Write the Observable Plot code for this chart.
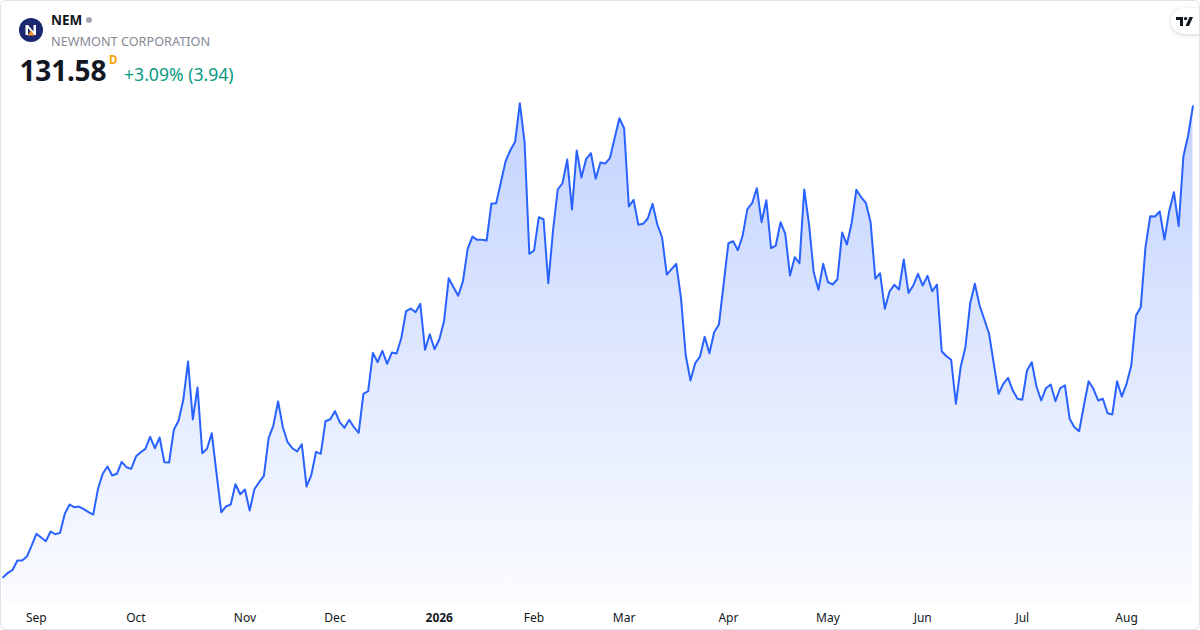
<!DOCTYPE html>
<html>
<head>
<meta charset="utf-8">
<script src="https://cdn.jsdelivr.net/npm/d3@7"></script>
<script src="https://cdn.jsdelivr.net/npm/@observablehq/plot@0.6"></script>
<style>
  html, body { margin: 0; padding: 0; background: #fff; }
  #wrap { position: relative; width: 1200px; height: 630px; overflow: hidden; font-family: "Noto Sans", "Open Sans", sans-serif; background: #fff; }
  #chart { position: absolute; left: 0; top: 0; }
  #border { position: absolute; left: 0; top: 0; width: 1200px; height: 630px; box-sizing: border-box; border: 1px solid #e0e3eb; border-radius: 6px; pointer-events: none; }
  .abs { position: absolute; white-space: nowrap; }
  #sym { left: 51px; top: 11px; font-size: 13.5px; font-weight: 700; color: #131722; line-height: 18px; }
  #dot { left: 86px; top: 17px; width: 6px; height: 6px; border-radius: 50%; background: #a3a6af; }
  #name { left: 51px; top: 32px; font-size: 12.7px; color: #868993; line-height: 18px; }
  #price { left: 19.5px; top: 51px; font-size: 28px; font-weight: 700; color: #131722; line-height: 38px; letter-spacing: -0.2px; }
  #dmark { left: 109px; top: 53px; font-size: 11.5px; font-weight: 700; color: #f7a600; line-height: 14px; }
  #chg { left: 124px; top: 61.5px; font-size: 17.6px; color: #089981; line-height: 24px; }
  #tv { left: 1171px; top: 8px; width: 40px; height: 26px; border-radius: 13px; background: #fff; box-shadow: 0 1px 4px rgba(0,0,0,0.18); }
</style>
</head>
<body>
<div id="wrap">
  <div id="chart"></div>
  <svg class="abs" style="left:19px;top:18px" width="24" height="24" viewBox="0 0 24 24">
    <circle cx="12" cy="12" r="12" fill="#1b2870"/>
    <path d="M6.5 17 V7 H9 L14.5 13.5 V7 H17 V17 H15 L9 10 V17 Z" fill="#fff"/>
    <path d="M8.5 17.5 L12 12.5 L15.5 17.5 Z" fill="#f39a2b"/>
  </svg>
  <div id="sym" class="abs">NEM</div>
  <div id="dot" class="abs"></div>
  <div id="name" class="abs">NEWMONT CORPORATION</div>
  <div id="price" class="abs">131.58</div>
  <div id="dmark" class="abs">D</div>
  <div id="chg" class="abs">+3.09% (3.94)</div>
  <div id="tv" class="abs">
    <svg width="26" height="26" viewBox="0 0 26 26" style="position:absolute;left:0;top:0">
      <path d="M5 9 H12 V18 H9 V12 H5 Z" fill="#131722"/>
      <circle cx="14.6" cy="10.6" r="1.7" fill="#131722"/>
      <path d="M18.5 9 H22 L18 18 H14.5 Z" fill="#131722"/>
    </svg>
  </div>
  <div id="border"></div>
</div>
<script>
// Daily closes (trading-day index 0 = 2025-08-21 ... 251 = 2026-08-21)
const values = [
  68.23, 68.82, 69.23, 70.48, 70.48, 71.01, 72.49, 74.07, 73.57, 73.07,
  74.38, 74.01, 74.20, 76.76, 78.01, 77.65, 77.74, 77.38, 77.00, 76.66,
  80.12, 82.14, 83.12, 81.91, 82.14, 83.75, 83.03, 82.81, 84.46, 85.04,
  85.50, 87.11, 85.58, 87.02, 83.70, 83.66, 88.06, 89.27, 92.09, 97.24,
  89.44, 93.75, 84.91, 85.50, 87.60, 82.22, 76.97, 77.74, 78.01, 80.74,
  79.39, 80.03, 77.20, 80.07, 81.01, 81.87, 86.93, 88.63, 91.86, 88.41,
  86.39, 85.58, 85.14, 86.12, 80.43, 81.95, 85.10, 84.83, 89.21, 89.48,
  90.56, 89.08, 88.32, 89.40, 88.41, 87.65, 92.90, 93.25, 98.41, 97.15,
  98.68, 96.93, 98.45, 98.32, 100.40, 104.01, 104.37, 103.87, 105.00, 98.82,
  100.91, 98.90, 100.20, 102.62, 108.45, 107.24, 106.08, 108.04, 112.40, 114.05,
  113.61, 113.61, 113.52, 118.49, 118.49, 121.36, 124.18, 125.66, 126.79, 131.98,
  126.74, 111.73, 112.17, 116.65, 116.38, 107.77, 114.86, 120.38, 121.22, 124.41,
  117.69, 125.62, 121.99, 124.51, 125.26, 121.82, 124.01, 123.87, 124.59, 127.28,
  129.97, 128.62, 118.09, 118.99, 115.63, 115.76, 116.48, 118.45, 115.67, 113.96,
  108.94, 109.66, 110.38, 105.76, 98.05, 94.69, 97.01, 97.91, 100.56, 98.36,
  101.18, 102.22, 107.69, 113.15, 113.42, 112.21, 114.15, 117.73, 118.53, 120.55,
  115.98, 118.94, 112.48, 112.84, 115.98, 114.42, 108.81, 111.27, 110.46, 120.38,
  115.76, 109.25, 106.89, 110.38, 107.91, 107.60, 108.31, 114.59, 112.98, 115.84,
  120.34, 119.34, 118.59, 115.98, 108.37, 109.12, 104.33, 106.66, 107.56, 106.93,
  110.96, 106.48, 107.46, 109.04, 107.46, 108.77, 106.70, 107.60, 98.63, 97.95,
  97.47, 91.55, 96.48, 99.17, 105.00, 107.69, 104.77, 102.89, 100.97, 96.93,
  92.90, 94.24, 95.05, 93.34, 92.23, 92.09, 96.03, 97.15, 93.88, 92.00,
  93.65, 94.15, 91.90, 93.65, 94.05, 89.54, 88.41, 87.87, 91.32, 94.59,
  93.57, 92.00, 92.23, 90.29, 90.11, 94.59, 92.53, 94.24, 96.70, 103.43,
  104.55, 112.62, 116.78, 116.74, 117.42, 113.65, 117.46, 120.01, 115.44, 124.85,
  127.64, 131.58
];
// First trading day of each month (index) and its label
const tickIndex  = [7, 28, 51, 70, 92, 112, 131, 153, 174, 194, 215, 237];
const tickLabels = ["Sep", "Oct", "Nov", "Dec", "2026", "Feb", "Mar", "Apr", "May", "Jun", "Jul", "Aug"];

const yDomain = [64.83, 145.8];
const data = values.map((v, i) => ({i, v}));
const ticks = tickIndex.map((i, k) => ({i, label: tickLabels[k]}));
const isYear = d => /^\d+$/.test(d.label);

const chart = Plot.plot({
  width: 1200,
  height: 630,
  marginLeft: 2.7,
  marginRight: 7.6,
  marginTop: 0,
  marginBottom: 28,
  style: {background: "transparent", fontFamily: "'Noto Sans', 'Open Sans', sans-serif"},
  x: {domain: [0, values.length - 1], axis: null},
  y: {domain: yDomain, axis: null},
  marks: [
    Plot.areaY(data, {x: "i", y1: yDomain[0], y2: "v", fill: "url(#nemGrad)"}),
    Plot.lineY(data, {x: "i", y: "v", stroke: "#2962FF", strokeWidth: 2, strokeLinejoin: "round"}),
    Plot.text(ticks.filter(d => !isYear(d)), {x: "i", text: "label", frameAnchor: "bottom", dy: 15.5, fontSize: 12, fill: "#131722", lineAnchor: "middle"}),
    Plot.text(ticks.filter(isYear), {x: "i", text: "label", frameAnchor: "bottom", dy: 15.5, fontSize: 12, fontWeight: 700, fill: "#131722", lineAnchor: "middle"})
  ]
});

d3.select(chart).insert("defs", ":first-child").html(
  '<linearGradient id="nemGrad" x1="0" y1="0" x2="0" y2="1">' +
  '<stop offset="0" stop-color="#2962FF" stop-opacity="0.28"/>' +
  '<stop offset="1" stop-color="#2962FF" stop-opacity="0.02"/>' +
  '</linearGradient>'
);
document.getElementById("chart").appendChild(chart);
</script>
</body>
</html>
